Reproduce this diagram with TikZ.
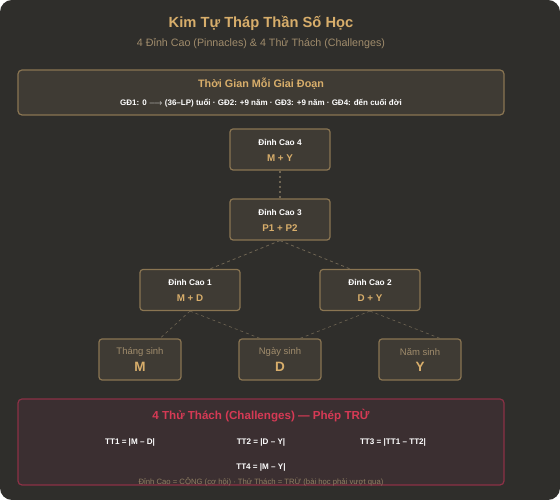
\documentclass[tikz,border=0pt]{standalone}
\usepackage{fontspec}
\setmainfont{Liberation Sans}
\usepackage{tikz}
\usetikzlibrary{calc}

\definecolor{bgc}{HTML}{2F2E2B}
\definecolor{boxfill}{HTML}{3F3B34}
\definecolor{boxline}{HTML}{8A7552}
\definecolor{gold}{HTML}{D8AE6B}
\definecolor{muted}{HTML}{A08C6C}
\definecolor{linkc}{HTML}{6F6553}
\definecolor{redc}{HTML}{D63A55}
\definecolor{redfill}{HTML}{3B2F31}
\definecolor{redline}{HTML}{8C3146}

\begin{document}
\begin{tikzpicture}[x=1pt,y=1pt,
		peak/.style = {draw=boxline, fill=boxfill, line width=1.2pt, rounded corners=3pt,
			minimum width=100pt, minimum height=41pt, inner sep=0pt},
		base/.style = {peak, minimum width=82pt},
		peakname/.style = {text=white, font=\fontsize{8.3}{10}\selectfont\bfseries},
		peaksum/.style = {text=gold, font=\fontsize{9.8}{12}\selectfont\bfseries},
		link/.style = {draw=linkc, dashed, dash pattern=on 3pt off 3pt, line width=0.8pt},
		ttext/.style = {text=white, font=\fontsize{8.1}{10}\selectfont\bfseries}]
		\useasboundingbox (0,0) rectangle (560,500);
		\fill[bgc, rounded corners=12pt] (0,0) rectangle (560,500);
		% titles
		\node[text=gold, font=\fontsize{14.7}{18}\selectfont\bfseries] (title) at (261,477) {Kim Tự Tháp Thần Số Học};
		\node[text=muted, font=\fontsize{10.7}{13}\selectfont] (subtitle) at (261,456) {4 Đỉnh Cao (Pinnacles) \& 4 Thử Thách (Challenges)};
		% time box
		\draw[draw=boxline, fill=boxfill, line width=1.2pt, rounded corners=4pt] (18,385) rectangle (504,430);
		\node[text=gold, font=\fontsize{10.8}{13}\selectfont\bfseries] (timehead) at (261,416) {Thời Gian Mỗi Giai Đoạn};
		\node[ttext, font=\fontsize{8}{10}\selectfont\bfseries] (timeline) at (261,397) {GĐ1: 0 $\longrightarrow$ (36–LP) tuổi · GĐ2: +9 năm · GĐ3: +9 năm · GĐ4: đến cuối đời};
		% pinnacles
		\node[peak] (p4) at (280,350.5) {};
		\node[peak] (p3) at (280,280.5) {};
		\node[peak] (p1) at (190,210) {};
		\node[peak] (p2) at (370,210) {};
		\foreach \n/\a/\b in {p4/Đỉnh Cao 4/M + Y, p3/Đỉnh Cao 3/P1 + P2, p1/Đỉnh Cao 1/M + D, p2/Đỉnh Cao 2/D + Y}
			{
			\node[peakname] at ($(\n)+(0,7.5)$) {\a};
			\node[peaksum] at ($(\n)+(0,-8.5)$) {\b};
			}
		% birth numbers
		\node[base] (bm) at (140,140.5) {};
		\node[base] (bd) at (280,140.5) {};
		\node[base] (by) at (420,140.5) {};
		\foreach \n/\a/\b in {bm/Tháng sinh/M, bd/Ngày sinh/D, by/Năm sinh/Y}
			{
			\node[text=muted, font=\fontsize{9.5}{11}\selectfont] at ($(\n)+(0,7.5)$) {\a};
			\node[text=gold, font=\fontsize{13.5}{16}\selectfont\bfseries] at ($(\n)+(0,-7)$) {\b};
			}
		% links
		\draw[draw=linkc, line width=1.6pt, dash pattern=on 2.5pt off 2.5pt] (p4.south) -- (p3.north);
		\draw[link] (p3.south) -- ($(p1.north)+(20,0)$);
		\draw[link] (p3.south) -- ($(p2.north)+(-20,0)$);
		\draw[link, line width=0.6pt] (p1.south) -- ($(bm.north)+(20,0)$);
		\draw[link, line width=0.6pt] (p1.south) -- ($(bd.north)+(-20,0)$);
		\draw[link, line width=0.6pt] (p2.south) -- ($(bd.north)+(20,0)$);
		\draw[link, line width=0.6pt] (p2.south) -- ($(by.north)+(20,0)$);
		% challenges
		\draw[draw=redline, fill=redfill, line width=1.2pt, rounded corners=4pt] (18,15) rectangle (504,101);
		\node[text=redc, font=\fontsize{11.6}{14}\selectfont\bfseries] (chead) at (261,84) {4 Thử Thách (Challenges) — Phép TRỪ};
		\node[ttext] (tt1) at (130,58) {TT1 = |M – D|};
		\node[ttext] (tt2) at (261,58) {TT2 = |D – Y|};
		\node[ttext] (tt3) at (393,58) {TT3 = |TT1 – TT2|};
		\node[ttext] (tt4) at (261,33) {TT4 = |M – Y|};
		\node[text=muted!85!bgc, font=\fontsize{7.7}{9}\selectfont] (foot) at (261,18) {Đỉnh Cao = CỘNG (cơ hội) · Thử Thách = TRỪ (bài học phải vượt qua)};
	\end{tikzpicture}
\end{document}
